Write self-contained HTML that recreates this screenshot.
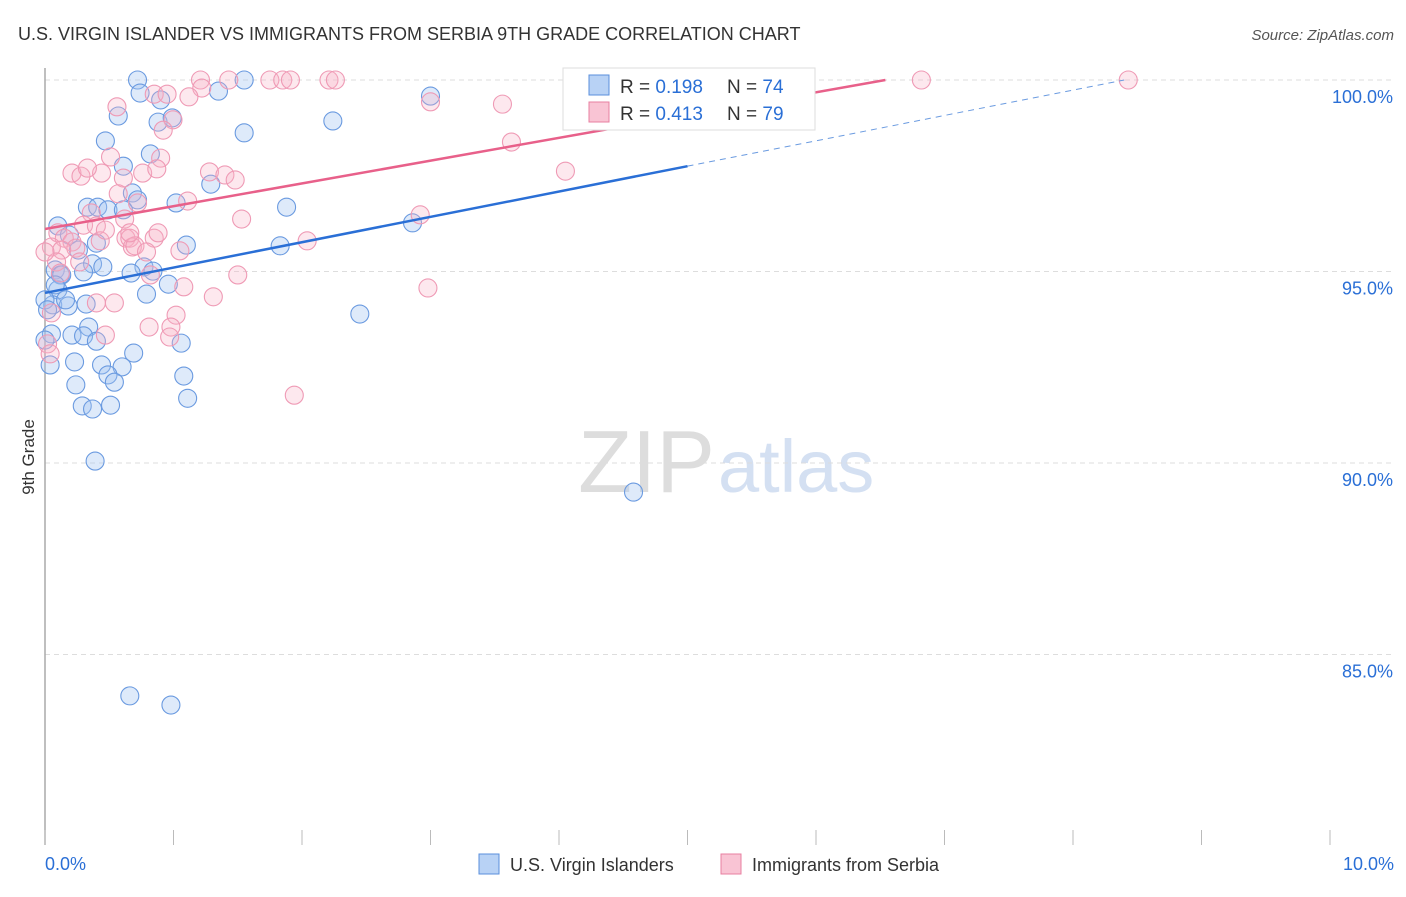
<!DOCTYPE html>
<html><head><meta charset="utf-8"><style>
body{margin:0;background:#fff;font-family:"Liberation Sans",sans-serif;}
svg text{font-family:"Liberation Sans",sans-serif;}
</style></head><body>
<svg id="chart" width="1406" height="892" xmlns="http://www.w3.org/2000/svg">
<text x="18" y="40" font-size="18" fill="#333">U.S. VIRGIN ISLANDER VS IMMIGRANTS FROM SERBIA 9TH GRADE CORRELATION CHART</text>
<text x="1394" y="40" font-size="15" fill="#555" text-anchor="end" font-style="italic">Source: ZipAtlas.com</text>
<text x="715" y="492" font-size="88" fill="#ddd" text-anchor="end" font-family="Liberation Serif">ZIP</text>
<text x="718" y="492" font-size="74" fill="#d4e0f2">atlas</text>
<g id="grid"></g><g id="axes"></g><g id="pts"></g><g id="lines"></g>
<text x="34" y="457" font-size="17" fill="#333" text-anchor="middle" transform="rotate(-90 34 457)">9th Grade</text>
<g>
<rect x="563" y="68" width="252" height="62" fill="#fff" stroke="#ddd"/>
<rect x="589" y="75" width="20" height="20" fill="#b8d2f5" stroke="#5a8fdc"/>
<rect x="589" y="102" width="20" height="20" fill="#f9c4d4" stroke="#e87fa0"/>
<text x="620" y="93" font-size="19" fill="#333">R = <tspan fill="#2a6fd6">0.198</tspan></text>
<text x="727" y="93" font-size="19" fill="#333">N = <tspan fill="#2a6fd6">74</tspan></text>
<text x="620" y="120" font-size="19" fill="#333">R = <tspan fill="#2a6fd6">0.413</tspan></text>
<text x="727" y="120" font-size="19" fill="#333">N = <tspan fill="#2a6fd6">79</tspan></text>
</g>
<g>
<rect x="479" y="854" width="20" height="20" fill="#b8d2f5" stroke="#5a8fdc"/>
<text x="510" y="871" font-size="18" fill="#333">U.S. Virgin Islanders</text>
<rect x="721" y="854" width="20" height="20" fill="#f9c4d4" stroke="#e87fa0"/>
<text x="752" y="871" font-size="18" fill="#333">Immigrants from Serbia</text>
</g>
</svg>
<script>
const yTicks=[100,95,90,85];
const yTickLabels=["100.0%","95.0%","90.0%","85.0%"];
const xTickLabels=["0.0%","10.0%"];
const blueX=[0.72,0.74,0.57,0.47,0.88,0.99,1.35,1.55,1.55,3.00,2.24,0.82,0.61,1.29,0.68,0.72,1.02,1.88,0.33,0.41,0.49,0.61,2.86,1.83,0.1,0.19,0.40,1.10,0.26,0.37,0.45,0.77,0.84,0.67,0.08,0.12,0.13,0.30,0.1,0.96,0.79,0.06,0.18,0.32,2.45,0.34,0.21,0.30,0.40,1.06,0.69,0.05,0.04,0.23,0.44,0.6,0.49,0.54,1.08,0.24,0.29,0.37,0.51,1.11,0.39,4.58,0.66,0.98,0.0,0.02,0.0,0.9,0.08,0.16];
const blueY=[100,99.66,99.06,98.41,98.90,99.01,99.71,100,98.62,99.58,98.93,98.07,97.75,97.28,97.05,96.87,96.79,96.68,96.68,96.68,96.61,96.61,96.27,95.67,96.19,95.95,95.74,95.69,95.56,95.20,95.12,95.12,95.01,94.96,95.04,94.91,94.91,94.99,94.52,94.67,94.41,94.13,94.1,94.15,93.89,93.55,93.34,93.32,93.18,93.13,92.87,93.37,92.56,92.64,92.56,92.51,92.3,92.11,92.27,92.04,91.49,91.41,91.51,91.69,90.05,89.24,83.92,83.68,94.26,94.0,93.21,99.48,94.65,94.26];
const pinkX=[1.21,1.43,1.75,1.85,1.91,2.21,2.26,6.82,8.43,1.22,0.85,0.95,1.12,0.56,0.996,3.00,3.56,0.92,3.63,0.51,0.90,4.05,0.21,0.28,0.44,0.61,0.76,0.87,1.28,1.40,1.48,0.33,0.57,1.11,0.72,2.92,0.36,0.62,1.53,0.30,0.40,0.1,0.15,0.21,0.63,0.85,2.04,0.43,0.66,0.24,0.68,0.88,1.05,0.70,0.79,0.05,0.13,0.09,1.50,0.82,0.12,1.08,2.98,1.31,0.40,0.54,0.05,1.02,0.81,0.98,0.47,0.97,1.94,0.02,0.04,0.27,0.0,0.66,0.47];
const pinkY=[100,100,100,100,100,100,100,100,100,99.79,99.63,99.63,99.56,99.30,98.96,99.43,99.37,98.69,98.38,97.99,97.96,97.62,97.57,97.49,97.57,97.44,97.57,97.68,97.60,97.52,97.39,97.7,97.03,96.84,96.79,96.48,96.53,96.37,96.37,96.21,96.19,96.01,95.87,95.77,95.87,95.87,95.80,95.80,95.87,95.61,95.64,96.01,95.54,95.67,95.51,95.64,95.56,95.25,94.91,94.91,94.96,94.60,94.57,94.34,94.18,94.18,93.92,93.86,93.55,93.55,93.34,93.29,91.77,93.11,92.85,95.25,95.51,96.01,96.08];
const blueFit=[94.44,97.75]; // y at x=0 and x=5.0
const pinkFit=[96.11,100];   // y at x=0 and x=6.54
const X=v=>45+v*128.5, Y=v=>80+(100-v)*38.3;
const NS="http://www.w3.org/2000/svg";
function mk(t,a,p){const e=document.createElementNS(NS,t);for(const k in a)e.setAttribute(k,a[k]);p.appendChild(e);return e;}
const grid=document.getElementById('grid'),axes=document.getElementById('axes'),pts=document.getElementById('pts'),lines=document.getElementById('lines');
yTicks.forEach((t,i)=>{
 const l=mk('line',{x1:45,x2:1394,y1:Y(t),y2:Y(t),stroke:'#ddd','stroke-dasharray':'5,4'},grid);
 
 
 const tx=mk('text',{x:1393,y:Y(t)+23,'font-size':18,fill:'#2a6fd6','text-anchor':'end'},grid);tx.textContent=yTickLabels[i];
 
 
});
const ya=mk('line',{x1:45,x2:45,y1:68,y2:845,stroke:'#aaa','stroke-width':1.5},axes);


for(let k=0;k<=10;k++){const t=mk('line',{x1:X(k),x2:X(k),y1:830,y2:845,stroke:'#bbb'},axes);
 
 }
[[0,'start',45],[10,'end',1394]].forEach((d,i)=>{const t=mk('text',{x:d[2],y:870,'font-size':18,fill:'#2a6fd6','text-anchor':d[1]},axes);t.textContent=xTickLabels[i];
 
 });
blueX.forEach((x,i)=>{const c=mk('circle',{cx:X(x),cy:Y(blueY[i]),r:9,fill:'rgba(160,195,240,0.35)',stroke:'#6a9ae0','stroke-width':1.1},pts);
 
 });
pinkX.forEach((x,i)=>{const c=mk('circle',{cx:X(x),cy:Y(pinkY[i]),r:9,fill:'rgba(248,180,200,0.3)',stroke:'#ef9ab5','stroke-width':1.1},pts);
 
 });
const bs=(blueFit[1]-blueFit[0])/5.0, ps=(pinkFit[1]-pinkFit[0])/6.54;
const bEnd=(100-blueFit[0])/bs;
let l=mk('line',{x1:X(0),y1:Y(blueFit[0]),x2:X(5.0),y2:Y(blueFit[0]+bs*5.0),stroke:'#2a6fd6','stroke-width':2.5},lines);


l=mk('line',{x1:X(5.0),y1:Y(blueFit[0]+bs*5.0),x2:X(bEnd),y2:Y(100),stroke:'#6b9be0','stroke-width':1,'stroke-dasharray':'6,5'},lines);


l=mk('line',{x1:X(0),y1:Y(pinkFit[0]),x2:X(6.54),y2:Y(pinkFit[0]+ps*6.54),stroke:'#e8608a','stroke-width':2.5},lines);


</script>
</body></html>
